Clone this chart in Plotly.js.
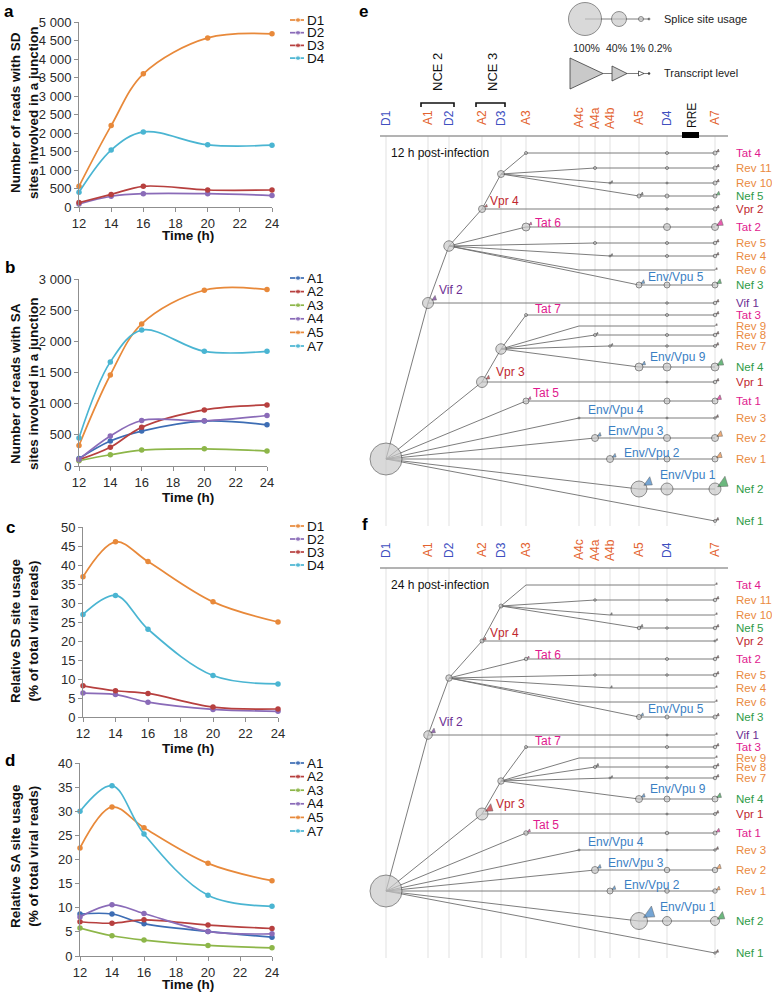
<!DOCTYPE html>
<html><head><meta charset="utf-8">
<script src="https://cdn.plot.ly/plotly-3.0.1.min.js"></script>
<style>html,body{margin:0;padding:0;background:#fff}#chart{width:772px;height:992px}</style>
</head><body><div id="chart"></div>
<script>
// ---------------- DATA ----------------
const hours = [12, 14, 16, 20, 24];

// a: number of reads with SD sites involved in a junction
const sdNames = ['D1', 'D2', 'D3', 'D4'];
const sdReadsD1 = [560, 2200, 3600, 4570, 4680];
const sdReadsD2 = [80, 290, 360, 360, 310];
const sdReadsD3 = [120, 340, 560, 460, 460];
const sdReadsD4 = [400, 1540, 2030, 1680, 1670];

// b: number of reads with SA sites involved in a junction
const saNames = ['A1', 'A2', 'A3', 'A4', 'A5', 'A7'];
const saReadsA1 = [120, 400, 560, 720, 660];
const saReadsA2 = [100, 300, 620, 900, 980];
const saReadsA3 = [85, 180, 255, 275, 240];
const saReadsA4 = [105, 480, 730, 725, 810];
const saReadsA5 = [330, 1460, 2280, 2820, 2830];
const saReadsA7 = [450, 1670, 2180, 1840, 1840];

// c: relative SD site usage (%)
const sdRelD1 = [36.9, 46.1, 40.9, 30.3, 25.0];
const sdRelD2 = [6.3, 5.9, 3.9, 2.0, 1.5];
const sdRelD3 = [8.2, 6.9, 6.2, 2.6, 2.1];
const sdRelD4 = [27.0, 32.0, 23.1, 10.9, 8.7];

// d: relative SA site usage (%)
const saRelA1 = [8.7, 8.7, 6.7, 5.1, 3.9];
const saRelA2 = [7.1, 6.8, 7.5, 6.4, 5.7];
const saRelA3 = [5.8, 4.2, 3.3, 2.2, 1.7];
const saRelA4 = [8.1, 10.6, 8.8, 5.1, 4.6];
const saRelA5 = [22.4, 30.9, 26.6, 19.2, 15.6];
const saRelA7 = [30.0, 35.3, 25.3, 12.6, 10.3];

// e / f: splice-site tree (schematic site order)
const siteNames = ['D1','A1','D2','A2','D3','A3','A4c','A4a','A4b','A5','D4','A7'];
const siteX     = [386, 428, 449, 482, 501, 526, 579, 595, 610, 639, 667, 715];

const rowNames  = ['Tat 4','Rev 11','Rev 10','Nef 5','Vpr 2','Tat 2','Rev 5','Rev 4','Rev 6','Nef 3','Vif 1','Tat 3','Rev 9','Rev 8','Rev 7','Nef 4','Vpr 1','Tat 1','Rev 3','Rev 2','Rev 1','Nef 2','Nef 1'];
const rowY      = [153,168,183,196,209,227,243,256,270,285,303,315,326,335,346,367,382,401,418,438,459,489,521];
const rowStart  = ['A3','A4a','A4b','A5','A2','A3','A4a','A4b','A4c','A5','A1','A3','A4c','A4a','A4b','A5','A2','A3','A4c','A4a','A4b','A5','A7'];
const rowParent = ['D3a','D3a','D3a','D3a','D2','D2','D2','D2','D2','D2','D1','D3b','D3b','D3b','D3b','D3b','D1','D1','D1','D1','D1','D1','D1'];
const midLabel  = ['','','','','Vpr 4','Tat 6','','','','Env/Vpu 5','Vif 2','Tat 7','','','','Env/Vpu 9','Vpr 3','Tat 5','Env/Vpu 4','Env/Vpu 3','Env/Vpu 2','Env/Vpu 1',''];
const midDx     = [0,0,0,0,6,7,0,0,0,7,9,7,0,0,0,9,12,5,7,11,12,19,0];
const midDy     = [0,0,0,0,-8,-4,0,0,0,-8,-13,-6,0,0,0,-10,-10,-8,-8,-7,-6,-14,0];

const donorIds  = ['D1','D2','D3a','D3b'];
const donorSite = ['D1','D2','D3','D3'];
const donorY    = [459, 246, 174, 349];
const donorFrom = [null, 'Vif 1', 'Vpr 2', 'Vpr 1'];

// usage (symbol diameters) — 12 h
const startUse12 = [3,3,2,4,7,8,3,2,0,6,11,3,0,3,2.5,8,11,6,2,7,7,16,0];
const d4Use12    = [3,3,2,4,2.5,7,3,3,0,6,2.5,3,0,3,2.5,8,2,6,2,7,6,12,0];
const a7Use12    = [4,4,4,4,4,7,3.5,3.5,0,6,3.5,3.5,0,3.5,3,8,3.5,6,2.5,7,6,12,3];
const startTx12  = [0,0,2,3,3,3,0,2,0,4,5,0,0,2,2,4,4,3,0,4,4,9,0];
const endTx12    = [3,3,3,4,3,7,3,3,2,5,3,3,2,3,3,7,3,5,3,6,6,11,3];
const donorUse12 = [32,10.5,7,10.5];
// usage — 24 h
const startUse24 = [0,2.5,0,3.5,4,3.5,2.5,0,0,5,8.5,3,0,3,2,7,12,4.5,2,7,6,17,0];
const d4Use24    = [0,2.5,0,2.5,0,3,2.5,0,0,4,2,3,0,2.5,2.5,6,2,3.5,2,5.5,4.5,9,0];
const a7Use24    = [0,3.5,0,3.5,2,3.5,3.5,0,0,4,0,3.5,0,3.5,3.5,6,3,4,2.5,5.5,4.5,9,2.5];
const startTx24  = [0,0,2,3,3,2,0,2,0,3,5,0,0,3,2,4,8,3,0,4,4,12,0];
const endTx24    = [2,3,2,3,2,3,3,2,2,3,2,3,2,3,3,5,3,4,3,5,4,8,3];
const donorUse24 = [32,6.5,4,6.5];

const legendPct  = ['100%','40%','1%','0.2%'];
const legendDiam = [33,15,5,2];

// ---------------- STYLE ----------------
const W = 772, H = 992;
const FONT = 'Liberation Sans, Arial, Helvetica, sans-serif';
const C = {orange:'#e8893a', purple:'#8a6bb8', red:'#b7403f', cyan:'#4ab5d2', blue:'#3d6db4', green:'#8db649'};
const sdColors = [C.orange, C.purple, C.red, C.cyan];
const saColors = [C.blue, C.red, C.green, C.purple, C.orange, C.cyan];
const protCol = {Tat:'#df1a8e', Rev:'#ea8a3e', Nef:'#2f9b48', Vpr:'#c0262e', Vif:'#6c2d93', Env:'#3b80c3'};
const DCOL = '#4050bf', ACOL = '#e3622e';

const traces = [];
const layout = {
  width: W, height: H, margin: {l:0, r:0, t:0, b:0},
  paper_bgcolor: '#ffffff', plot_bgcolor: 'rgba(0,0,0,0)',
  showlegend: false, separators: '. ',
  font: {family: FONT, size: 13, color: '#1a1a1a'},
  shapes: [], annotations: []
};

function ann(text, x, y, o) {
  o = o || {};
  layout.annotations.push({
    text, x, y, xref: 'x5', yref: 'y5', showarrow: false,
    xanchor: o.xa || 'center', yanchor: o.ya || 'middle',
    textangle: o.angle || 0,
    font: {family: FONT, size: o.size || 12, color: o.color || '#1a1a1a'}
  });
}

// ---------------- LINE CHARTS ----------------
function lineChart(n, xpx, ypx, yr, dt, names, colors, series, legY, ytitle, yTitleY, xTitleY) {
  const s = String(n);
  const ax = {
    showline: true, linecolor: '#8f8f8f', linewidth: 1, ticks: 'outside', ticklen: 4,
    tickcolor: '#8f8f8f', showgrid: false, zeroline: false, fixedrange: true,
    tickfont: {family: FONT, size: 13, color: '#2a2a2a'}
  };
  layout['xaxis' + s] = Object.assign({}, ax, {domain: [xpx[0]/W, xpx[1]/W], range: [12, 24], tick0: 12, dtick: 2, anchor: 'y' + s});
  layout['yaxis' + s] = Object.assign({}, ax, {domain: [1 - ypx[1]/H, 1 - ypx[0]/H], range: yr, tick0: 0, dtick: dt, separatethousands: true, anchor: 'x' + s});
  series.forEach((y, i) => {
    traces.push({type: 'scatter', mode: 'lines+markers', x: hours, y, name: names[i],
      xaxis: 'x' + s, yaxis: 'y' + s, cliponaxis: false,
      line: {color: colors[i], width: 1.7, shape: 'spline', smoothing: 1},
      marker: {color: colors[i], size: 5.5}});
    // legend key
    const ly = legY[0] + i * legY[1];
    traces.push({type: 'scatter', mode: 'lines+markers', x: [290, 298, 304], y: [ly, ly, ly],
      xaxis: 'x5', yaxis: 'y5', hoverinfo: 'skip',
      line: {color: colors[i], width: 1.7}, marker: {color: colors[i], size: [0, 5, 0]}});
    ann(names[i], 305, ly, {xa: 'left', size: 13.5, color: '#111'});
  });
  ann('<b>' + ytitle + '</b>', 24, yTitleY, {angle: -90, size: 13.5, color: '#111'});
  ann('<b>Time (h)</b>', 188, xTitleY, {size: 13.5, color: '#111'});
}

lineChart(1, [79, 272], [22, 207], [0, 5000], 500, sdNames, sdColors,
  [sdReadsD1, sdReadsD2, sdReadsD3, sdReadsD4], [20, 12.7],
  'Number of reads with SD<br>sites involved in a junction', 113, 235);
lineChart(2, [79, 267], [279, 466], [0, 3000], 500, saNames, saColors,
  [saReadsA1, saReadsA2, saReadsA3, saReadsA4, saReadsA5, saReadsA7], [278, 13.6],
  'Number of reads with SA<br>sites involved in a junction', 384, 497);
lineChart(3, [83, 278], [527, 717], [0, 50], 5, sdNames, sdColors,
  [sdRelD1, sdRelD2, sdRelD3, sdRelD4], [526, 13],
  'Relative SD site usage<br>(% of total viral reads)', 631, 748);
lineChart(4, [80, 272], [763, 956], [0, 40], 5, saNames, saColors,
  [saRelA1, saRelA2, saRelA3, saRelA4, saRelA5, saRelA7], [763, 13.6],
  'Relative SA site usage<br>(% of total viral reads)', 856, 984);

// overlay axis for the schematic panels
layout.xaxis5 = {domain: [0, 1], range: [0, W], visible: false, fixedrange: true, anchor: 'y5'};
layout.yaxis5 = {domain: [0, 1], range: [H, 0], visible: false, fixedrange: true, anchor: 'x5'};

// panel letters
[['a', 9, 11], ['b', 10, 267], ['c', 10, 527], ['d', 10, 760], ['e', 363, 11], ['f', 365, 524]].forEach(p =>
  ann('<b>' + p[0] + '</b>', p[1], p[2], {size: 17, color: '#000'}));

// ---------------- TREE PANELS ----------------
const sx = name => siteX[siteNames.indexOf(name)];
const prot = name => name.split(' ')[0].split('/')[0];
function arrowPos(x, y, d, s) {
  if (d <= 0) return [x + 1.5, y - 1.2];
  const dist = d / 2 + 0.35 * s + 0.6;
  return [x + dist * 0.82, y - dist * 0.57];
}

function drawPanel(off, startUse, d4Use, a7Use, startTx, endTx, donorUse, timeLabel, showNCE) {
  const xL = 380, xR = 728, axisY = 136 + off, bottom = 526 + off;
  // grid + header axis
  siteX.forEach(x => layout.shapes.push({type: 'line', xref: 'x5', yref: 'y5', x0: x, x1: x, y0: axisY, y1: bottom, layer: 'below', line: {color: '#e1e1e1', width: 1}}));
  layout.shapes.push({type: 'line', xref: 'x5', yref: 'y5', x0: xL, x1: xR, y0: axisY, y1: axisY, line: {color: '#9a9a9a', width: 1.3}});
  siteNames.forEach((s, i) => ann(s, siteX[i], 118 + off, {angle: -90, size: 12, color: s[0] === 'D' ? DCOL : ACOL}));
  ann(timeLabel, 389, 153 + off, {xa: 'left', size: 12, color: '#111'});

  // node positions
  const node = {};
  donorIds.forEach((id, i) => node[id] = [sx(donorSite[i]), donorY[i] + off, donorUse[i]]);
  rowNames.forEach((r, i) => node[r] = [sx(rowStart[i]), rowY[i] + off, startUse[i]]);

  // branches
  const bx = [], by = [];
  rowNames.forEach((r, i) => { const p = node[rowParent[i]], c = node[r]; bx.push(p[0], c[0], null); by.push(p[1], c[1], null); });
  donorIds.forEach((id, i) => { if (donorFrom[i]) { const p = node[donorFrom[i]], c = node[id]; bx.push(p[0], c[0], null); by.push(p[1], c[1], null); } });
  // horizontal exon rows
  const xA7 = sx('A7'), xD4 = sx('D4');
  rowNames.forEach((r, i) => { const x0 = sx(rowStart[i]); if (x0 < xA7) { bx.push(x0, xA7, null); by.push(rowY[i] + off, rowY[i] + off, null); } });
  traces.push({type: 'scatter', mode: 'lines', x: bx, y: by, xaxis: 'x5', yaxis: 'y5', hoverinfo: 'skip', line: {color: '#6e6e6e', width: 0.9}});

  // circles (splice site usage)
  const cx = [], cy = [], cs = [];
  donorIds.forEach(id => { const n = node[id]; if (n[2] > 0) { cx.push(n[0]); cy.push(n[1]); cs.push(n[2]); } });
  rowNames.forEach((r, i) => {
    const y = rowY[i] + off;
    if (startUse[i] > 0 && rowStart[i] !== 'A7') { cx.push(sx(rowStart[i])); cy.push(y); cs.push(startUse[i]); }
    if (d4Use[i] > 0) { cx.push(xD4); cy.push(y); cs.push(d4Use[i]); }
    if (a7Use[i] > 0) { cx.push(xA7); cy.push(y); cs.push(a7Use[i]); }
  });
  traces.push({type: 'scatter', mode: 'markers', x: cx, y: cy, xaxis: 'x5', yaxis: 'y5', hoverinfo: 'skip', cliponaxis: false,
    marker: {size: cs, color: '#c9c9c9', line: {color: '#3c3c3c', width: 0.8}}});

  // arrows (transcript level)
  const ax = [], ay = [], as = [], ac = [];
  rowNames.forEach((r, i) => {
    const y = rowY[i] + off;
    if (startTx[i] > 0) {
      const p = arrowPos(sx(rowStart[i]), y, startUse[i], startTx[i]);
      ax.push(p[0]); ay.push(p[1]); as.push(startTx[i]);
      ac.push(midLabel[i] ? protCol[prot(midLabel[i])] : '#555');
    }
    if (endTx[i] > 0) {
      const p = arrowPos(xA7, y, a7Use[i], endTx[i]);
      ax.push(p[0]); ay.push(p[1]); as.push(endTx[i]);
      ac.push(endTx[i] >= 4 ? protCol[prot(r)] : '#5a3a3a');
    }
  });
  traces.push({type: 'scatter', mode: 'markers', x: ax, y: ay, xaxis: 'x5', yaxis: 'y5', hoverinfo: 'skip', cliponaxis: false,
    marker: {symbol: 'triangle-right', angle: 35, size: as, color: ac, line: {color: '#222', width: 0.5}}});

  // labels
  rowNames.forEach((r, i) => {
    const y = rowY[i] + off;
    ann(r, 734, y, {xa: 'left', size: 11.5, color: protCol[prot(r)]});
    if (midLabel[i]) ann(midLabel[i], sx(rowStart[i]) + midDx[i], y + midDy[i], {xa: 'left', size: 12, color: protCol[prot(midLabel[i])]});
  });

  if (showNCE) {
    layout.shapes.push({type: 'path', xref: 'x5', yref: 'y5', path: 'M421,107 L421,103 L454,103 L454,107', line: {color: '#111', width: 1.6}});
    layout.shapes.push({type: 'path', xref: 'x5', yref: 'y5', path: 'M476,107 L476,103 L505,103 L505,107', line: {color: '#111', width: 1.6}});
    ann('NCE 2', 437, 72, {angle: -90, size: 13, color: '#111'});
    ann('NCE 3', 492, 72, {angle: -90, size: 13, color: '#111'});
    ann('RRE', 692, 116, {angle: -90, size: 12, color: '#111'});
    layout.shapes.push({type: 'rect', xref: 'x5', yref: 'y5', x0: 682, x1: 699, y0: 132, y1: 138, fillcolor: '#000', line: {width: 0}});
  }
}

drawPanel(0, startUse12, d4Use12, a7Use12, startTx12, endTx12, donorUse12, '12 h post-infection', true);
drawPanel(432, startUse24, d4Use24, a7Use24, startTx24, endTx24, donorUse24, '24 h post-infection', false);

// ---------------- SYMBOL KEY (panel e) ----------------
const keyX = [585, 619, 641, 649];
traces.push({type: 'scatter', mode: 'lines+markers', x: keyX, y: [19, 19, 19, 19], xaxis: 'x5', yaxis: 'y5', hoverinfo: 'skip',
  line: {color: '#6e6e6e', width: 0.9}, marker: {size: legendDiam, color: ['#c9c9c9', '#c9c9c9', '#c9c9c9', '#555'], line: {color: '#3c3c3c', width: 0.8}}});
const pctX = [586, 616, 637, 660];
legendPct.forEach((t, i) => ann(t, pctX[i], 48, {size: 10.5, color: '#222'}));
ann('Splice site usage', 662, 19, {xa: 'left', size: 11, color: '#222'});
ann('Transcript level', 662, 73, {xa: 'left', size: 11, color: '#222'});
traces.push({type: 'scatter', mode: 'lines', x: [603, 649], y: [73.5, 73.5], xaxis: 'x5', yaxis: 'y5', hoverinfo: 'skip', line: {color: '#6e6e6e', width: 0.9}});
[['M570,58 L603,73.5 L570,89 Z', '#c9c9c9'], ['M612,66 L627,73.5 L612,81 Z', '#c9c9c9'], ['M638.5,71 L644,73.5 L638.5,76 Z', '#fff']].forEach(p =>
  layout.shapes.push({type: 'path', xref: 'x5', yref: 'y5', path: p[0], fillcolor: p[1], line: {color: '#3c3c3c', width: 0.8}}));
traces.push({type: 'scatter', mode: 'markers', x: [649], y: [73.5], xaxis: 'x5', yaxis: 'y5', hoverinfo: 'skip', marker: {size: 2.5, color: '#444'}});

Plotly.newPlot('chart', traces, layout, {staticPlot: true, displayModeBar: false});
</script>
</body></html>
